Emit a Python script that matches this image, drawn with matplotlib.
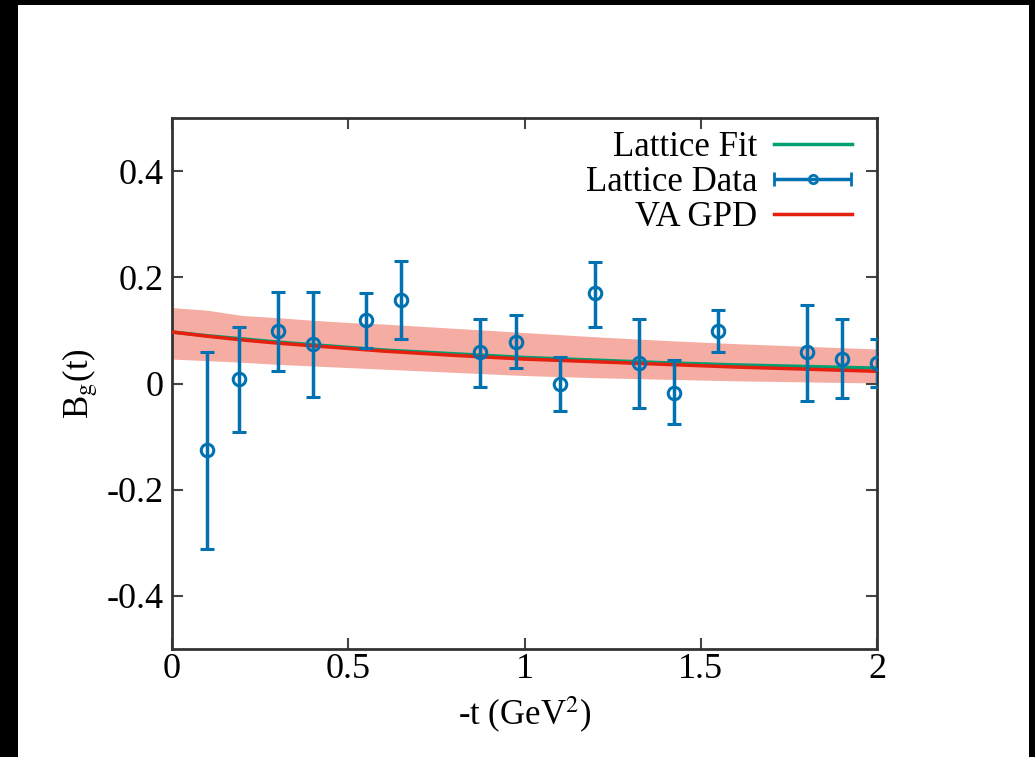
import matplotlib
matplotlib.use("Agg")
import matplotlib.pyplot as plt
from matplotlib.patches import Rectangle
from matplotlib.container import ErrorbarContainer
from matplotlib.legend_handler import HandlerErrorbar

plt.rcParams['font.family'] = ['Liberation Serif', 'DejaVu Serif']
plt.rcParams['mathtext.fontset'] = 'stix'

# lattice points: -t, B_g, lower/upper error
t_data = [0.10, 0.19, 0.30, 0.40, 0.55, 0.65, 0.875, 0.975,
          1.10, 1.20, 1.325, 1.425, 1.55, 1.80, 1.90, 2.00]
bg_data = [-0.125, 0.009, 0.098, 0.075, 0.119, 0.157, 0.060, 0.078,
           0.000, 0.170, 0.039, -0.018, 0.098, 0.059, 0.047, 0.038]
err_lo = [0.187, 0.101, 0.074, 0.101, 0.052, 0.074, 0.066, 0.048,
          0.052, 0.064, 0.086, 0.059, 0.039, 0.092, 0.074, 0.044]
err_hi = [0.185, 0.098, 0.074, 0.097, 0.051, 0.074, 0.061, 0.051,
          0.049, 0.059, 0.082, 0.063, 0.040, 0.089, 0.074, 0.045]

# curves sampled along -t
t_curve = [0.0, 0.1, 0.2, 0.3, 0.4, 0.5, 0.6, 0.8, 1.0, 1.2, 1.4, 1.6, 1.8, 2.0]
fit_curve = [0.097, 0.090, 0.084, 0.078, 0.073, 0.068, 0.063, 0.056, 0.049,
             0.044, 0.039, 0.035, 0.032, 0.029]
va_curve = [0.097, 0.089, 0.082, 0.076, 0.071, 0.066, 0.061, 0.053, 0.046,
            0.041, 0.036, 0.031, 0.027, 0.023]
band_hi = [0.143, 0.138, 0.128, 0.124, 0.119, 0.115, 0.112, 0.104, 0.096,
           0.088, 0.081, 0.075, 0.070, 0.065]
band_lo = [0.046, 0.043, 0.040, 0.036, 0.033, 0.030, 0.027, 0.021, 0.015,
           0.011, 0.008, 0.005, 0.003, 0.001]

blue = '#0072b2'
green = '#009e73'
red = '#e5200f'

fig = plt.figure(figsize=(10.35, 7.57), dpi=100, facecolor='black')
# white page inside the black frame
fig.patches.append(Rectangle((18/1035, 0), (1029-18)/1035, 1-5/757,
                             transform=fig.transFigure, facecolor='white',
                             edgecolor='none', zorder=-10))
ax = fig.add_axes([172/1035, 1-649/757, (877-172)/1035, (649-118)/757])
ax.set_facecolor('white')

ax.fill_between(t_curve, band_lo, band_hi, color='#f08070', alpha=0.65,
                lw=0, zorder=1)
fit_line, = ax.plot(t_curve, fit_curve, color=green, lw=2.5, zorder=2)
ax.errorbar(t_data, bg_data, yerr=[err_lo, err_hi], fmt='o', color=blue,
            mfc='none', mec=blue, ms=9, mew=2.2, elinewidth=2.5, capsize=5,
            capthick=2.5, zorder=4)
va_line, = ax.plot(t_curve, va_curve, color=red, lw=2.5, zorder=3)

# horizontal errorbar key for the legend
key = ax.errorbar([float('nan')], [float('nan')], xerr=[[1.0]], fmt='o',
                  color=blue, mfc='none', mec=blue, ms=6, mew=2,
                  elinewidth=2.5, capsize=5, capthick=2.5)

ax.set_xlim(0, 2)
ax.set_ylim(-0.5, 0.5)
ax.set_xticks([0, 0.5, 1, 1.5, 2])
ax.set_xticklabels(['0', '0.5', '1', '1.5', '2'])
ax.set_yticks([-0.4, -0.2, 0, 0.2, 0.4])
ax.set_yticklabels(['-0.4', '-0.2', '0', '0.2', '0.4'])
ax.tick_params(direction='in', length=8, width=1.5, top=True, right=True,
               labelsize=26, color='#444444')
ax.tick_params(axis='x', pad=3)
ax.tick_params(axis='y', pad=6)
for sp in ax.spines.values():
    sp.set_linewidth(2)
    sp.set_color('#333333')

ax.set_xlabel('-t (GeV$^2$)', fontsize=25, labelpad=6)
ax.set_ylabel('B$_\\mathrm{g}$(t)', fontsize=25, labelpad=5)

ax.legend([fit_line, key, va_line], ['Lattice Fit', 'Lattice Data', 'VA GPD'],
          loc='upper right', bbox_to_anchor=(0.9887, 1.0075),
          frameon=False, markerfirst=False, fontsize=25,
          handlelength=2.25, handletextpad=0.46, labelspacing=0.05,
          borderaxespad=0.1,
          handler_map={ErrorbarContainer: HandlerErrorbar(xerr_size=1.12)})

fig.savefig('out.png', dpi=100, facecolor='black')
